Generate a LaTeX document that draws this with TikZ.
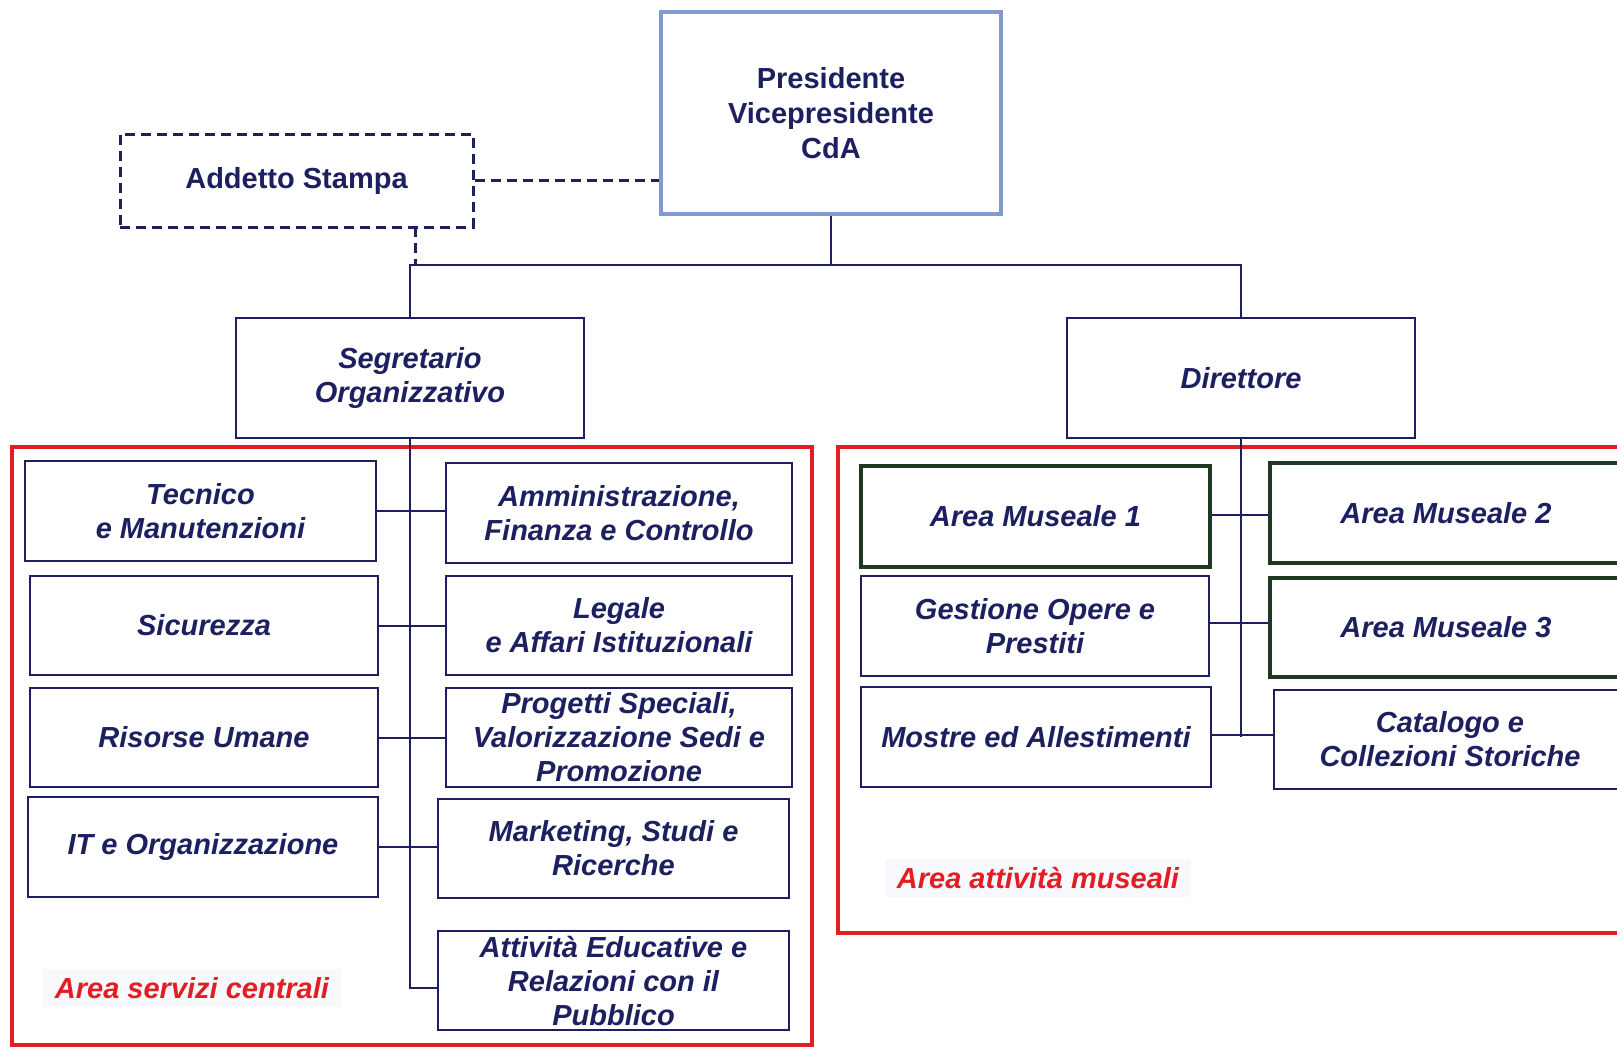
\documentclass[tikz,border=0pt]{standalone}
\usepackage{fontspec}
\setmainfont{Liberation Sans}
\definecolor{navy}{RGB}{28,32,96}
\definecolor{presblue}{RGB}{130,154,206}
\definecolor{dkgreen}{RGB}{30,56,34}
\definecolor{areared}{RGB}{226,30,36}
\definecolor{labelbg}{RGB}{247,249,253}
\begin{document}
\begin{tikzpicture}[x=1pt,y=-1pt,
  txt/.style={font=\fontsize{29}{34}\selectfont\bfseries\itshape},
  box/.style={txt, draw=navy, line width=2pt, fill=white, text=navy, align=center, inner sep=0pt},
  greenbox/.style={box, draw=dkgreen, line width=4.5pt},
  presbox/.style={box, draw=presblue, line width=4pt, font=\fontsize{29}{35}\selectfont\bfseries},
  pressbox/.style={box, dash pattern=on 10pt off 6pt, line width=3pt, font=\fontsize{29}{34}\selectfont\bfseries},
  conn/.style={draw=navy, line width=2pt},
  dconn/.style={conn, line width=3pt, dash pattern=on 10pt off 6pt},
  areaframe/.style={draw=areared, line width=3.5pt},
  arealabel/.style={txt, text=areared, fill=labelbg, inner xsep=12pt, inner ysep=8pt}]
\useasboundingbox (0,0) rectangle (1617,1047);
\fill[white] (0,0) rectangle (1617,1047);

% area frames
\draw[areaframe] (12,447) rectangle (812,1045);
\draw[areaframe] (838,447) rectangle (1640,933);

% top level
\node[presbox, minimum width=340pt, minimum height=202pt] (pres) at (831,113) {Presidente\\Vicepresidente\\CdA};
\node[pressbox, minimum width=353pt, minimum height=93pt] (addetto) at (296.5,180.5) {Addetto Stampa};
\node[box, minimum width=348pt, minimum height=120pt] (seg) at (410,378) {Segretario\\Organizzativo};
\node[box, minimum width=348pt, minimum height=120pt] (dir) at (1241,378) {Direttore};

% left area
\node[box, minimum width=351pt, minimum height=100pt] (tec) at (200.5,511) {Tecnico\\e Manutenzioni};
\node[box, minimum width=348pt, minimum height=99pt] (sic) at (204,625.5) {Sicurezza};
\node[box, minimum width=348pt, minimum height=99pt] (ris) at (204,737.5) {Risorse Umane};
\node[box, minimum width=350pt, minimum height=100pt] (it) at (203,847) {IT e Organizzazione};
\node[box, minimum width=346pt, minimum height=100pt] (amm) at (619,513) {Amministrazione,\\Finanza e Controllo};
\node[box, minimum width=346pt, minimum height=99pt] (leg) at (619,625.5) {Legale\\e Affari Istituzionali};
\node[box, minimum width=346pt, minimum height=99pt] (prog) at (619,737.5) {Progetti Speciali,\\Valorizzazione Sedi e\\Promozione};
\node[box, minimum width=351pt, minimum height=99pt] (mkt) at (613.5,848.5) {Marketing, Studi e\\Ricerche};
\node[box, minimum width=351pt, minimum height=99pt] (att) at (613.5,980.5) {Attività Educative e\\Relazioni con il\\Pubblico};
\node[arealabel] (lab1) at (192,988) {Area servizi centrali};

% right area
\node[greenbox, minimum width=349pt, minimum height=101pt] (am1) at (1035.5,516.5) {Area Museale 1};
\node[greenbox, minimum width=352pt, minimum height=100pt] (am2) at (1446,513) {Area Museale 2};
\node[box, minimum width=348pt, minimum height=100pt] (ges) at (1035,626) {Gestione Opere e\\Prestiti};
\node[greenbox, minimum width=352pt, minimum height=99pt] (am3) at (1446,627.5) {Area Museale 3};
\node[box, minimum width=350pt, minimum height=100pt] (mos) at (1036,737) {Mostre ed Allestimenti};
\node[box, minimum width=352pt, minimum height=99pt] (cat) at (1450,739.5) {Catalogo e\\Collezioni Storiche};
\node[arealabel] (lab2) at (1038,878) {Area attività museali};

% connectors
\coordinate (hb) at (0,265);
\coordinate (dk) at (415,227);
\draw[conn] (pres.south) -- (pres.south |- hb);
\draw[conn] (seg.north) |- (dir.north |- hb) -- (dir.north);
\draw[dconn] (addetto.east) -- (addetto.east -| pres.west);
\draw[dconn] (dk) -- (dk |- hb);

\draw[conn] (seg.south) |- ([yshift=-7.5pt]att.west);
\draw[conn] (tec.east) -- (tec.east -| amm.west);
\draw[conn] (sic.east) -- (sic.east -| leg.west);
\draw[conn] (ris.east) -- (ris.east -| prog.west);
\draw[conn] (it.east) -- (it.east -| mkt.west);

\draw[conn] (dir.south) -- (dir.south |- mos.east);
\draw[conn] ([yshift=2pt]am1.east) -- ([yshift=2pt]am1.east -| am2.west);
\draw[conn] ([yshift=3pt]ges.east) -- ([yshift=3pt]ges.east -| am3.west);
\draw[conn] ([yshift=2pt]mos.east) -- ([yshift=2pt]mos.east -| cat.west);
\end{tikzpicture}
\end{document}
